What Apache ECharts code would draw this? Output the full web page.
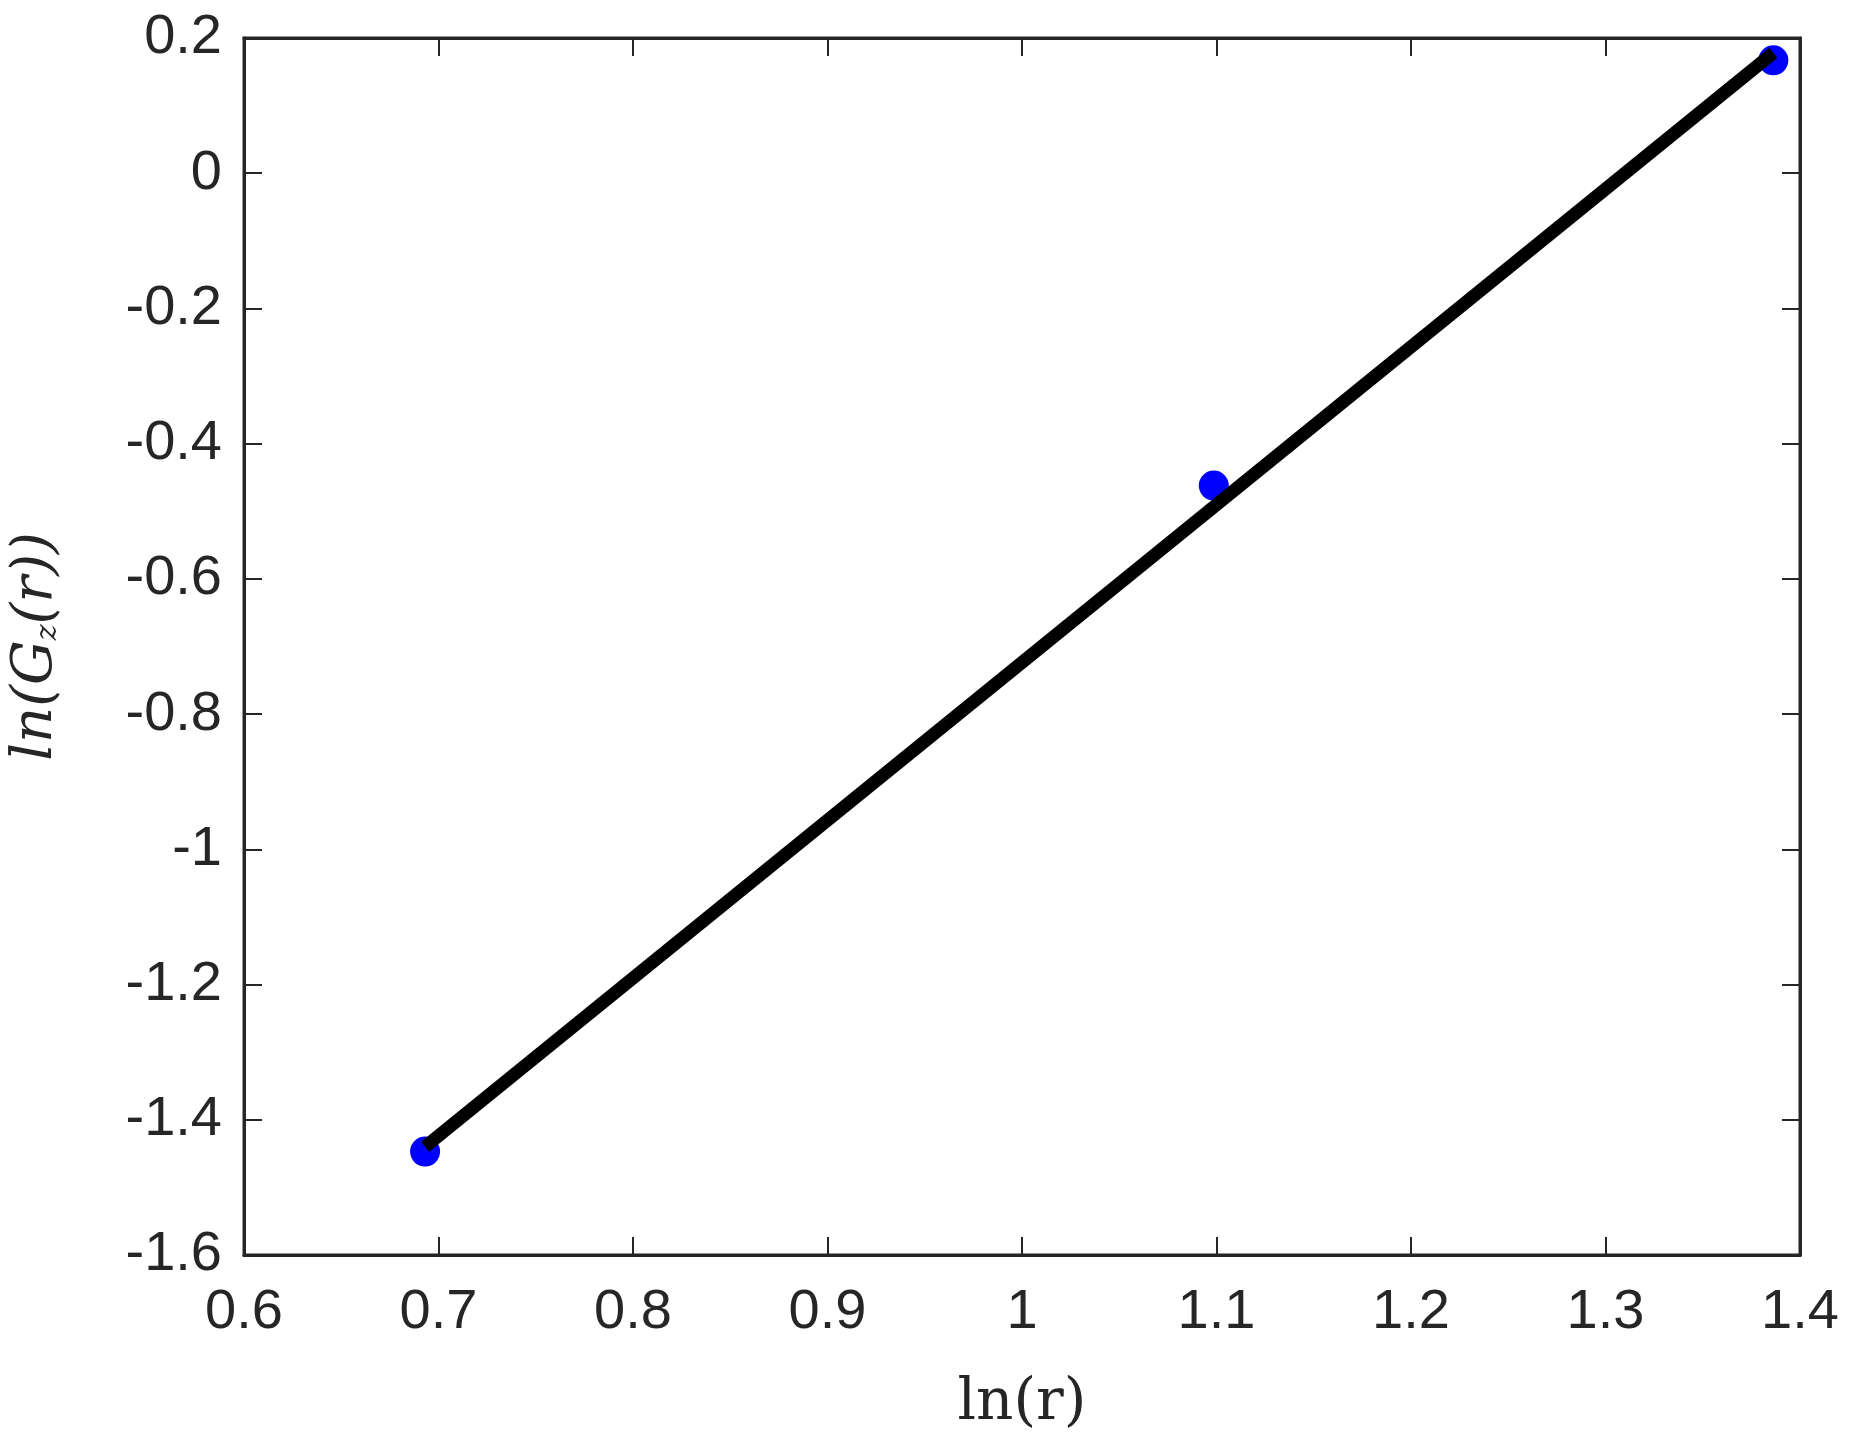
<!DOCTYPE html>
<html><head><meta charset="utf-8">
<script src="https://cdn.jsdelivr.net/npm/echarts@6/dist/echarts.min.js"></script>
<style>html,body{margin:0;background:#fff}#c{width:1849px;height:1438px}</style>
</head><body><div id="c"></div>
<script>
// 数据点与拟合线
const pointsX = [0.6931, 1.0986, 1.3863];
const pointsY = [-1.447, -0.462, 0.167];
const fitX = [0.6931, 1.3863];
const fitY = [-1.44, 0.178];

const chart = echarts.init(document.getElementById('c'));
const tickFont = { fontFamily: 'Liberation Sans, Arial', fontSize: 56, color: '#262626' };
const axisLine = { show: true, onZero: false, lineStyle: { color: '#262626', width: 3 } };
const tick = { inside: true, length: 18, lineStyle: { color: '#262626', width: 2 } };

chart.setOption({
    animation: false,
    grid: { left: 238, right: 49, top: 38, bottom: 180, show: true, borderColor: '#262626', borderWidth: 3 },
    xAxis: [{
        type: 'value', min: 0.6, max: 1.4, interval: 0.1,
        name: 'ln(r)', nameLocation: 'middle', nameGap: 120,
        nameTextStyle: { fontFamily: 'DejaVu Serif, serif', fontSize: 58, color: '#262626' },
        axisLine: axisLine, axisTick: tick,
        axisLabel: Object.assign({ margin: 30, formatter: v => +v.toFixed(1) + '' }, tickFont),
        splitLine: { show: false }
    }, {
        type: 'value', min: 0.6, max: 1.4, interval: 0.1, position: 'top',
        axisLine: axisLine, axisTick: tick,
        axisLabel: { show: false }, splitLine: { show: false }
    }],
    yAxis: [{
        type: 'value', min: -1.6, max: 0.2, interval: 0.2,
        name: '{t|ln(G}{s|z}{t|(r))}', nameLocation: 'middle', nameGap: 180,
        nameTextStyle: {
            rich: {
                t: { fontFamily: 'DejaVu Serif, serif', fontStyle: 'italic', fontSize: 56, color: '#262626' },
                s: { fontFamily: 'DejaVu Serif, serif', fontStyle: 'italic', fontSize: 30, color: '#262626', padding: [24, 0, 0, 0] }
            }
        },
        axisLine: axisLine, axisTick: tick,
        axisLabel: Object.assign({ margin: 22, formatter: v => +v.toFixed(1) + '' }, tickFont),
        splitLine: { show: false }
    }, {
        type: 'value', min: -1.6, max: 0.2, interval: 0.2, position: 'right',
        axisLine: axisLine, axisTick: tick,
        axisLabel: { show: false }, splitLine: { show: false }
    }],
    series: [{
        type: 'scatter',
        data: pointsX.map((x, i) => [x, pointsY[i]]),
        symbolSize: 30,
        itemStyle: { color: '#0000ff', opacity: 1 },
        z: 2
    }, {
        type: 'line',
        data: fitX.map((x, i) => [x, fitY[i]]),
        symbol: 'none',
        lineStyle: { color: '#000', width: 13 },
        z: 3
    }]
});
</script></body></html>
